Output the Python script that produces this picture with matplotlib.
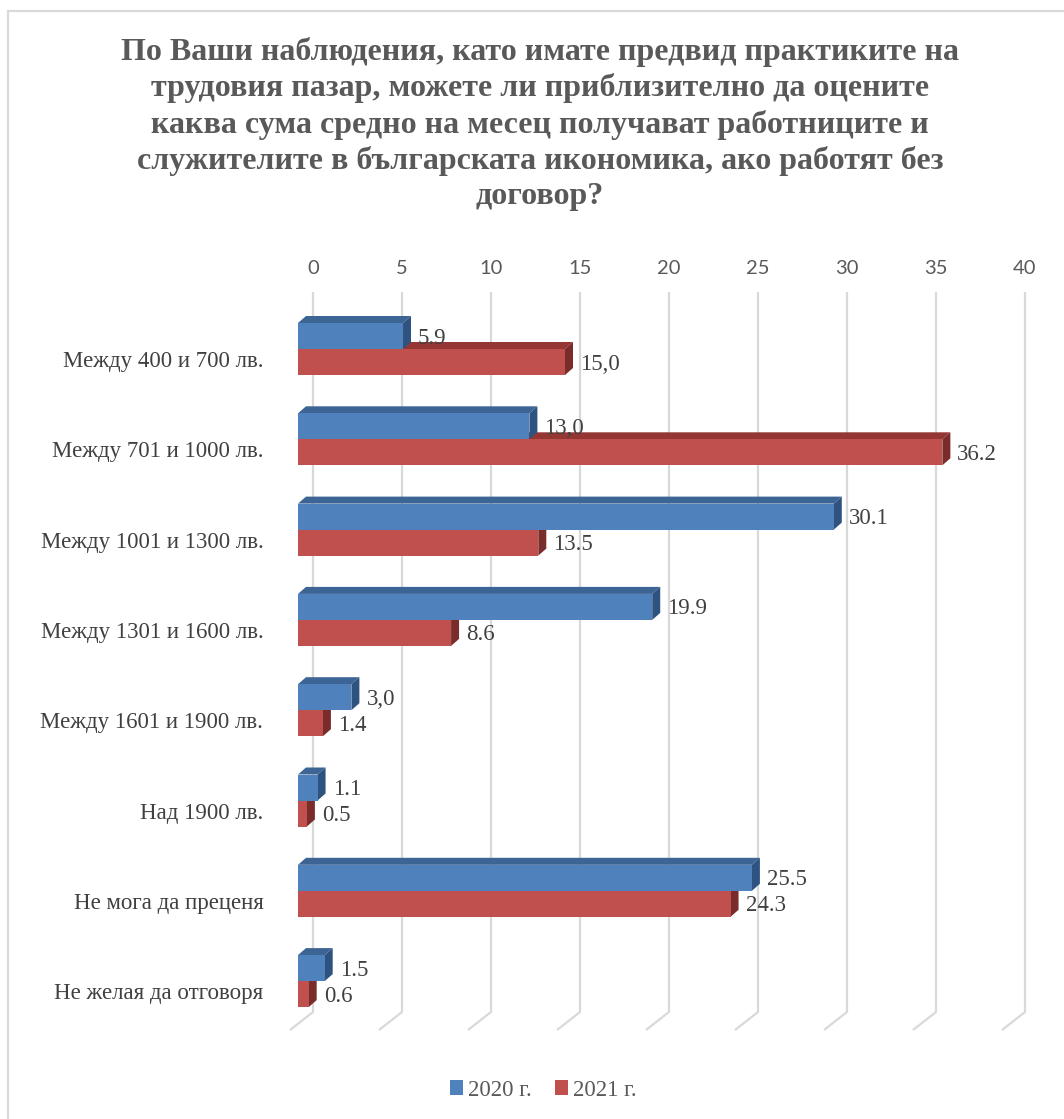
import numpy as np
import matplotlib
matplotlib.use('Agg')
import matplotlib.pyplot as plt
from matplotlib.patches import Polygon, Rectangle, Patch

categories = ['Между 400 и 700 лв.', 'Между 701 и 1000 лв.', 'Между 1001 и 1300 лв.',
              'Между 1301 и 1600 лв.', 'Между 1601 и 1900 лв.', 'Над 1900 лв.',
              'Не мога да преценя', 'Не желая да отговоря']
values_2020 = [5.9, 13.0, 30.1, 19.9, 3.0, 1.1, 25.5, 1.5]
values_2021 = [15.0, 36.2, 13.5, 8.6, 1.4, 0.5, 24.3, 0.6]
labels_2020 = ['5.9', '13,0', '30.1', '19.9', '3,0', '1.1', '25.5', '1.5']
labels_2021 = ['15,0', '36.2', '13.5', '8.6', '1.4', '0.5', '24.3', '0.6']
series_names = ['2020 г.', '2021 г.']
xticks = list(range(0, 41, 5))

title = ('По Ваши наблюдения, като имате предвид практиките на\n'
         'трудовия пазар, можете ли приблизително да оцените\n'
         'каква сума средно на месец получават работниците и\n'
         'служителите в българската икономика, ако работят без\n'
         'договор?')

W, H = 1064, 1119
fig = plt.figure(figsize=(W / 100, H / 100), dpi=100)

# axes geometry in pixels (x: 0 -> 313px, 17.8px per unit; y: category step 90.3px)
pxu = 17.8
pyu = 90.3
x0px, y0px = 313, 349
left, right, top, bottom = 280, 1045, 292, 1035
ax = fig.add_axes([left / W, 1 - bottom / H, (right - left) / W, (bottom - top) / H])
ax.set_xlim((left - x0px) / pxu, 40 + (right - 1025) / pxu)
ax.set_ylim((bottom - y0px) / pyu, (top - y0px) / pyu)
for s in ax.spines.values():
    s.set_visible(False)

serif = 'Liberation Serif'
grid_c = '#d9d9d9'

# back wall gridlines with slanted floor
y_back = (1012 - y0px) / pyu
y_front = (1030 - y0px) / pyu
yt_ax = (top - y0px) / pyu
for t in xticks:
    ax.plot([t, t, t - 23 / pxu], [yt_ax, y_back, y_front], color=grid_c, lw=1.6,
            solid_capstyle='butt', zorder=1, clip_on=False)

# 3d bars
bh = 26 / pyu
ddx = 8 / pxu
ddy = 7 / pyu
xs = (298 - x0px) / pxu

def bar3d(v, y_top, front, topc, sidec, z):
    yb = y_top + bh
    ax.add_patch(Polygon([[xs, y_top], [xs + v, y_top], [xs + v + ddx, y_top - ddy],
                          [xs + ddx, y_top - ddy]], closed=True, fc=topc, ec='none', zorder=z))
    ax.add_patch(Polygon([[xs + v, y_top], [xs + v, yb], [xs + v + ddx, yb - ddy],
                          [xs + v + ddx, y_top - ddy]], closed=True, fc=sidec, ec='none', zorder=z))
    ax.add_patch(Rectangle((xs, y_top), v, bh, fc=front, ec='none', zorder=z))

blue, blue_top, blue_side = '#4F81BD', '#3C6494', '#2F5380'
red, red_top, red_side = '#C0504D', '#943634', '#7A2C2A'

for i in range(len(categories)):
    bar3d(values_2021[i], i, red, red_top, red_side, 2)
    bar3d(values_2020[i], i - bh, blue, blue_top, blue_side, 3)
    ax.text(xs + values_2020[i] + 15 / pxu, i - bh / 2 + 2 / pyu, labels_2020[i],
            family=serif, fontsize=16.5, color='#404040', va='center', ha='left', zorder=5)
    ax.text(xs + values_2021[i] + 15 / pxu, i + bh / 2 + 2 / pyu, labels_2021[i],
            family=serif, fontsize=16.5, color='#404040', va='center', ha='left', zorder=5)

ax.xaxis.tick_top()
ax.set_xticks(xticks)
ax.set_xticklabels([str(t) for t in xticks], family='Lato', fontsize=14.5, color='#595959')
ax.tick_params(axis='x', length=0, pad=11)
ax.set_yticks(np.arange(len(categories)) + 10 / pyu)
ax.set_yticklabels(categories, family=serif, fontsize=16.5, color='#404040')
ax.tick_params(axis='y', length=0, pad=12)

fig.text(540 / W, 1 - 37 / H, title, ha='center', va='top', family=serif, fontweight='bold',
         fontsize=23, color='#595959', linespacing=1.28)

handles = [Patch(fc=blue, ec='none'), Patch(fc=red, ec='none')]
fig.legend(handles, series_names, loc='center', bbox_to_anchor=(543 / W, 1 - 1090 / H),
           ncol=2, frameon=False, handlelength=0.6, handleheight=0.6, handletextpad=0.2,
           columnspacing=1.0, prop={'family': serif, 'size': 16.5}, labelcolor='#595959')

fig.patches.append(Rectangle((8 / W, -0.1), 1.2, 1 - 11 / H + 0.1, transform=fig.transFigure,
                             fill=False, ec=grid_c, lw=1.6))

fig.savefig('out.png', dpi=100)
